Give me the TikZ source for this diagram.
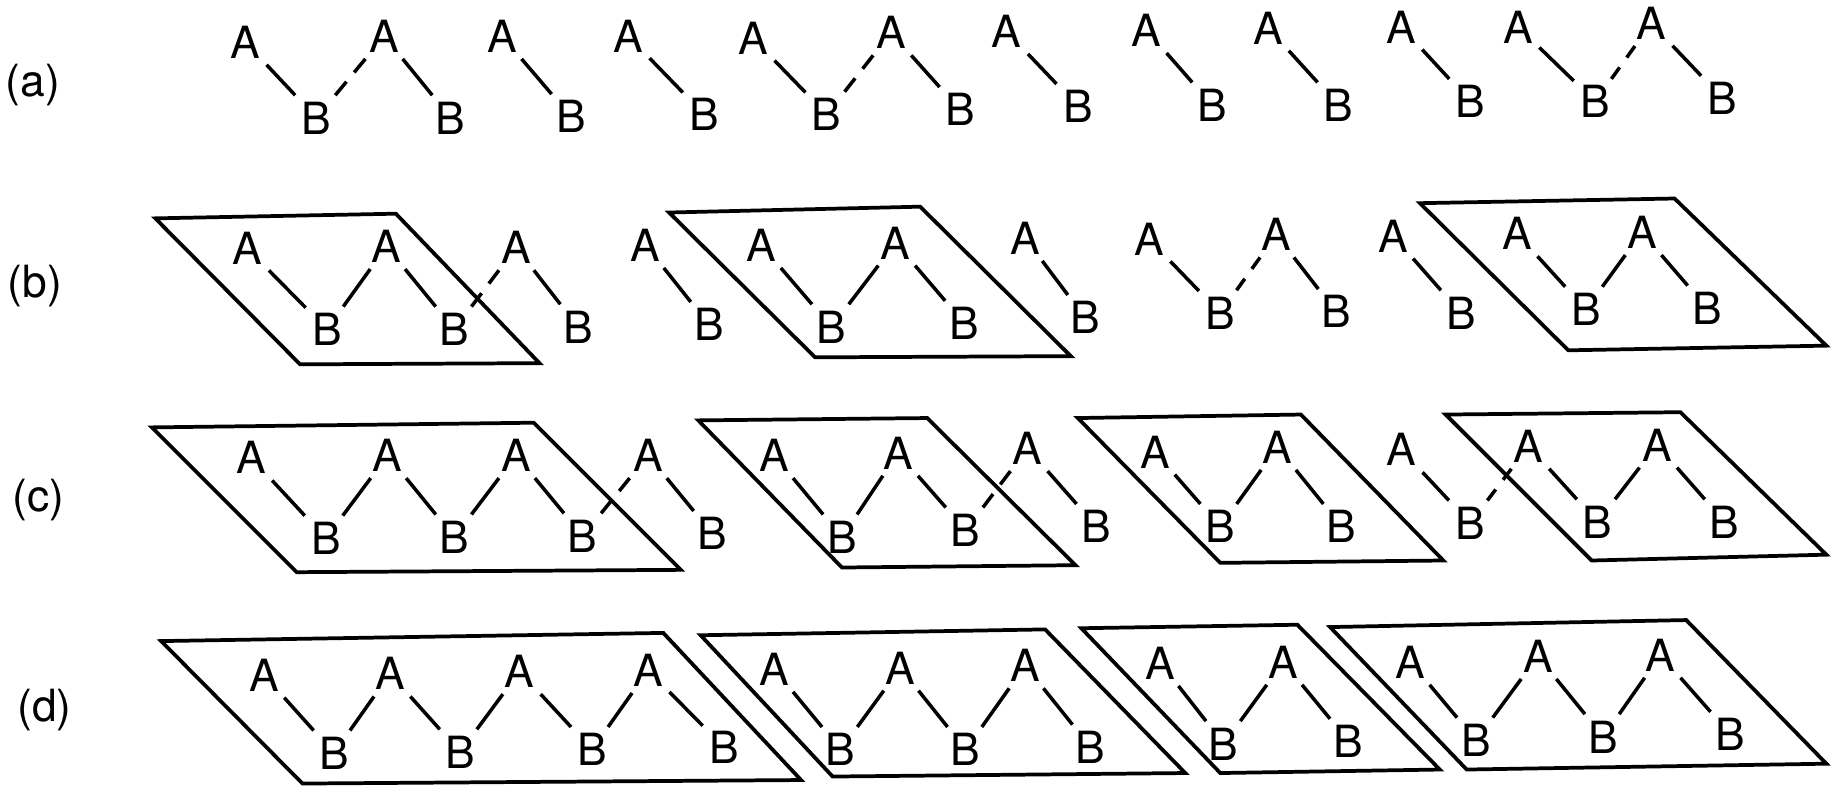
\documentclass[tikz,border=0pt]{standalone}
\usepackage{fontspec}
\setmainfont{TeX Gyre Heros}
\usetikzlibrary{calc}
\newcommand\halfbond[2]{%
  \draw[bond,shorten >=2.6pt] (#1) -- ($(#1)!.5!(#2)$);
  \draw[bond,shorten >=2.6pt] (#2) -- ($(#1)!.5!(#2)$);}
\begin{document}
\begin{tikzpicture}[x=0.5pt,y=-0.5pt,
  lt/.style={font=\fontsize{19}{19}\selectfont, inner sep=2.6pt},
  lbl/.style={font=\fontsize{19}{19}\selectfont, inner sep=0pt},
  bond/.style={line width=1.5pt},
  frame/.style={line width=1.6pt, line join=miter}]
\useasboundingbox (0,0) rectangle (1568,673);

% row labels
\node[lbl] (la) at (28,73) {(a)};
\node[lbl] (lb) at (30,245) {(b)};
\node[lbl] (lc) at (33,428) {(c)};
\node[lbl] (ld) at (38,608) {(d)};

% ---------------- row (a)
\foreach \n/\xa/\ya/\xb/\yb in {1/210/36/271/101, 2/329/31/386/101, 3/430/31/489/100,
  4/538/31/603/98, 5/645/33/708/98, 6/763/28/822/94, 7/862/27/923/91, 8/982/26/1038/90,
  9/1086/24/1146/90, 10/1200/23/1259/87, 11/1300/23/1366/87, 12/1414/20/1475/84}{
  \node[lt] (aA\n) at (\xa,\ya) {A};
  \node[lt] (aB\n) at (\xb,\yb) {B};
  \draw[bond] (aA\n) -- (aB\n);
}
\halfbond{aB1}{aA2}
\halfbond{aB5}{aA6}
\halfbond{aB11}{aA12}

% ---------------- row (b)
\draw[frame] (133,187) -- (339,183) -- (462,311) -- (257,312) -- cycle;
\draw[frame] (573,182) -- (788,177) -- (917,305) -- (698,306) -- cycle;
\draw[frame] (1216,174) -- (1434,170) -- (1564,296) -- (1343,300) -- cycle;
\foreach \n/\xa/\ya/\xb/\yb in {1/212/213/280/282, 2/331/211/389/282, 3/442/212/495/280,
  4/553/210/607/278, 5/652/210/712/280, 6/767/208/826/277, 7/878/204/929/272,
  8/984/205/1045/268, 9/1093/201/1144/267, 10/1193/202/1251/268,
  11/1299/200/1358/265, 12/1406/199/1462/264}{
  \node[lt] (bA\n) at (\xa,\ya) {A};
  \node[lt] (bB\n) at (\xb,\yb) {B};
  \draw[bond] (bA\n) -- (bB\n);
}
\draw[bond] (bB1) -- (bA2);
\draw[bond] (bB5) -- (bA6);
\draw[bond] (bB11) -- (bA12);
\halfbond{bB2}{bA3}
\halfbond{bB8}{bA9}

% ---------------- row (c)
\draw[frame] (130,366) -- (457,362) -- (583,488) -- (254,490) -- cycle;
\draw[frame] (598,360) -- (794,358) -- (921,484) -- (721,486) -- cycle;
\draw[frame] (923,358) -- (1114,355) -- (1236,480) -- (1045,482) -- cycle;
\draw[frame] (1238,355) -- (1439,353) -- (1564,475) -- (1363,480) -- cycle;
\foreach \n/\xa/\ya/\xb/\yb in {1/215/392/279/461, 2/332/390/389/460, 3/442/390/499/459,
  4/555/390/610/457, 5/663/390/721/460, 6/769/388/827/454, 7/880/384/939/451,
  8/989/387/1045/451, 9/1094/383/1149/451, 10/1200/385/1259/448,
  11/1309/382/1368/447, 12/1419/381/1477/447}{
  \node[lt] (cA\n) at (\xa,\ya) {A};
  \node[lt] (cB\n) at (\xb,\yb) {B};
  \draw[bond] (cA\n) -- (cB\n);
}
\draw[bond] (cB1) -- (cA2);
\draw[bond] (cB2) -- (cA3);
\draw[bond] (cB5) -- (cA6);
\draw[bond] (cB8) -- (cA9);
\draw[bond] (cB11) -- (cA12);
\halfbond{cB3}{cA4}
\halfbond{cB6}{cA7}
\halfbond{cB10}{cA11}

% ---------------- row (d)
\draw[frame] (138,549) -- (568,542) -- (686,668) -- (259,671) -- cycle;
\draw[frame] (600,544) -- (895,539) -- (1015,662) -- (713,665) -- cycle;
\draw[frame] (926,538) -- (1111,535) -- (1233,659) -- (1045,662) -- cycle;
\draw[frame] (1139,537) -- (1444,531) -- (1564,654) -- (1256,659) -- cycle;
\foreach \n/\xa/\ya/\xb/\yb in {1/226/578/286/645, 2/334/577/394/644, 3/445/575/507/642,
  4/555/574/620/640, 5/663/573/720/642, 6/771/572/827/642, 7/878/570/934/640,
  8/994/568/1048/637, 9/1099/567/1155/635, 10/1208/567/1264/634,
  11/1317/562/1373/631, 12/1422/561/1482/629}{
  \node[lt] (dA\n) at (\xa,\ya) {A};
  \node[lt] (dB\n) at (\xb,\yb) {B};
  \draw[bond] (dA\n) -- (dB\n);
}
\draw[bond] (dB1) -- (dA2);
\draw[bond] (dB2) -- (dA3);
\draw[bond] (dB3) -- (dA4);
\draw[bond] (dB5) -- (dA6);
\draw[bond] (dB6) -- (dA7);
\draw[bond] (dB8) -- (dA9);
\draw[bond] (dB10) -- (dA11);
\draw[bond] (dB11) -- (dA12);
\end{tikzpicture}
\end{document}
